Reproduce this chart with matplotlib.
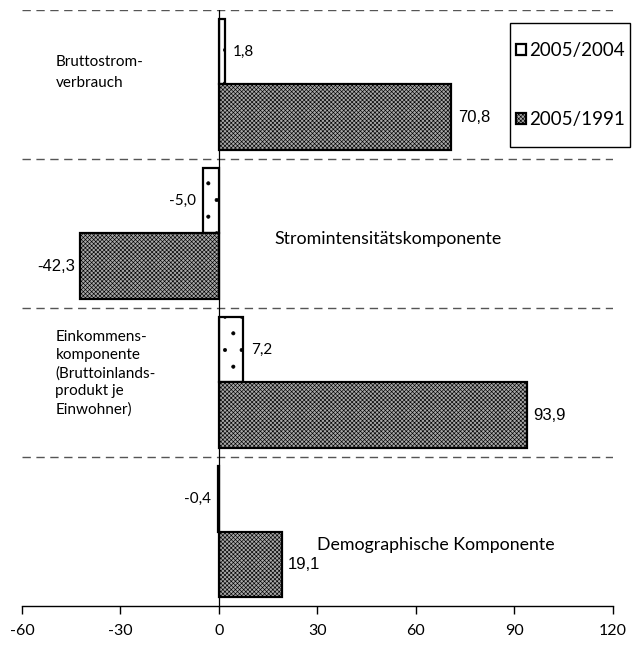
import matplotlib
matplotlib.use("Agg")
import matplotlib.pyplot as plt
from matplotlib.patches import Patch, Rectangle
from matplotlib.font_manager import FontProperties

categories = ["Bruttostrom-\nverbrauch", "Stromintensitätskomponente",
              "Einkommens-\nkomponente\n(Bruttoinlands-\nprodukt je\nEinwohner)",
              "Demographische Komponente"]
series_names = ["2005/2004", "2005/1991"]
vals_2004 = [1.8, -5.0, 7.2, -0.4]
vals_1991 = [70.8, -42.3, 93.9, 19.1]
labels_2004 = ["1,8", "-5,0", "7,2", "-0,4"]
labels_1991 = ["70,8", "-42,3", "93,9", "19,1"]
xticks = [-60, -30, 0, 30, 60, 90, 120]

plt.rcParams['font.family'] = ['Lato', 'DejaVu Sans']
plt.rcParams['hatch.linewidth'] = 0.45

fig = plt.figure(figsize=(6.37, 6.51), dpi=100)
ax = fig.add_axes([0.0345, 0.069, 0.9275, 0.916])

big_face = '#a8a8a8'
big_hatch = 'xxxxxxxx'
h = 0.44
n = len(categories)
for i in range(n):
    c = i + 0.5
    ax.barh(c - h / 2, vals_2004[i], height=h, facecolor='white', edgecolor='black',
            linewidth=1.6, hatch='.', zorder=3)
    ax.barh(c + h / 2, vals_1991[i], height=h, facecolor=big_face, edgecolor='black',
            linewidth=1.6, hatch=big_hatch, zorder=3)

ax.set_xlim(-60, 120)
ax.set_ylim(n, 0)
ax.axvline(0, color='black', lw=0.9, zorder=4)
for b in range(n):
    ax.axhline(b, color='#555555', lw=1.0, ls=(0, (6, 4)), zorder=1)

for s in ['left', 'right', 'top']:
    ax.spines[s].set_visible(False)
ax.spines['bottom'].set_linewidth(1.0)
ax.set_yticks([])
ax.set_xticks(xticks)
ax.set_xticklabels([str(t) for t in xticks], fontsize=11.5)
ax.tick_params(axis='x', length=6, width=1.0, pad=7)

# value labels
num_fp = FontProperties(family='Liberation Sans', size=12)
for i in range(n):
    c = i + 0.5
    v = vals_2004[i]
    if v >= 0:
        ax.text(v + 2.5, c - h / 2, labels_2004[i], ha='left', va='center', fontsize=11)
    else:
        ax.text(v - 2, c - h / 2, labels_2004[i], ha='right', va='center', fontsize=11)
    v = vals_1991[i]
    if v >= 0:
        ax.text(v + 2, c + h / 2, labels_1991[i], ha='left', va='center', fontproperties=num_fp)
    else:
        ax.text(v - 1.5, c + h / 2, labels_1991[i], ha='right', va='center', fontproperties=num_fp)

# category labels
ax.text(-49.8, 0.42, categories[0], ha='left', va='center', fontsize=11, linespacing=1.6)
ax.text(17, 1.54, categories[1], ha='left', va='center', fontsize=12.8)
ax.text(-49.8, 2.44, categories[2], ha='left', va='center', fontsize=11, linespacing=1.35)
ax.text(30, 3.59, categories[3], ha='left', va='center', fontsize=12.8)

# legend
fig.add_artist(Rectangle((510 / 637, 1 - 147 / 651), 120 / 637, 124 / 651,
                         transform=fig.transFigure, facecolor='white',
                         edgecolor='black', linewidth=1.0))
handles = [Patch(facecolor='white', edgecolor='black', linewidth=1.6),
           Patch(facecolor=big_face, edgecolor='black', linewidth=1.6, hatch=big_hatch)]
leg = fig.legend(handles, series_names, loc='center', bbox_to_anchor=(570 / 637, 1 - 85 / 651),
                 fontsize=13.5, frameon=False,
                 handlelength=0.55, handleheight=0.55, handletextpad=0.15,
                 labelspacing=2.75, borderpad=0.0)

fig.savefig('out.png', dpi=100)
